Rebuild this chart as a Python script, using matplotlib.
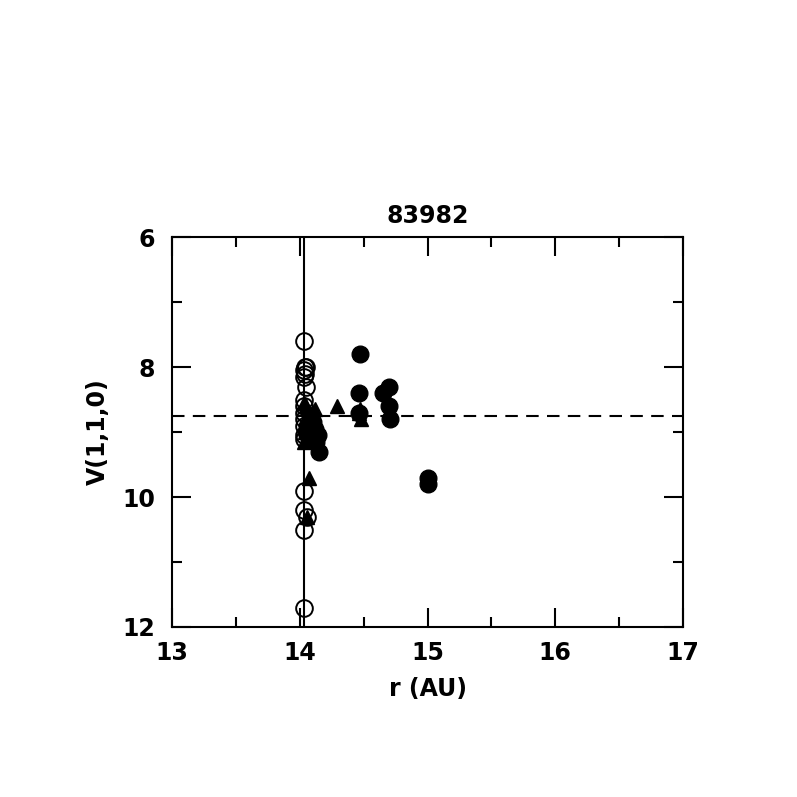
import matplotlib
matplotlib.use("Agg")
import matplotlib.pyplot as plt
from matplotlib.ticker import MultipleLocator

plt.rcParams['font.family'] = ['DejaVu Sans']

title = "83982"
open_x = [14.03, 14.04, 14.05, 14.03, 14.04, 14.03, 14.05, 14.03, 14.03, 14.03, 14.03, 14.03, 14.03, 14.03, 14.03, 14.03, 14.06, 14.03, 14.03]
open_y = [7.6, 8.0, 8.0, 8.05, 8.1, 8.15, 8.3, 8.5, 8.6, 8.7, 8.8, 8.9, 9.05, 9.1, 9.9, 10.2, 10.3, 10.5, 11.7]

tri_x = [14.03, 14.05, 14.08, 14.10, 14.05, 14.04, 14.03, 14.29, 14.47, 14.46, 14.48, 14.07, 14.06, 14.12]
tri_y = [8.55, 8.6, 8.7, 8.75, 8.85, 9.0, 9.15, 8.6, 8.65, 8.7, 8.8, 9.7, 10.3, 8.65]

fill_x = [14.47, 14.46, 14.46, 14.65, 14.70, 14.70, 14.71, 15.0, 15.0, 14.08, 14.10, 14.12, 14.14, 14.13, 14.15, 14.06, 14.05, 14.07]
fill_y = [7.8, 8.4, 8.7, 8.4, 8.3, 8.6, 8.8, 9.7, 9.8, 8.75, 8.85, 8.95, 9.05, 9.15, 9.3, 8.9, 9.0, 9.1]

vline_x = 14.03
hline_y = 8.75

fig = plt.figure(figsize=(7.97, 7.97), dpi=100)
ax = fig.add_axes([0.2158, 0.2133, 0.6412, 0.4893])

ax.axvline(vline_x, color='black', lw=1.5, zorder=1)
ax.axhline(hline_y, color='black', lw=1.5, ls=(0, (6, 4)), zorder=1)

ax.plot(open_x, open_y, 'o', ms=12, mfc='none', mec='black', mew=1.4, ls='none', zorder=3)
ax.plot(tri_x, tri_y, '^', ms=10.5, color='black', ls='none', zorder=3)
ax.plot(fill_x, fill_y, 'o', ms=12, color='black', ls='none', zorder=3)

ax.set_xlim(13, 17)
ax.set_ylim(12, 6)
ax.xaxis.set_major_locator(MultipleLocator(1))
ax.xaxis.set_minor_locator(MultipleLocator(0.5))
ax.yaxis.set_major_locator(MultipleLocator(2))
ax.yaxis.set_minor_locator(MultipleLocator(1))
ax.tick_params(which='both', direction='in', top=True, right=True, width=1.5)
ax.tick_params(which='major', length=14, labelsize=17)
ax.tick_params(axis='x', which='major', pad=10)
ax.tick_params(axis='y', which='major', pad=12)
ax.tick_params(which='minor', length=7)
for s in ax.spines.values():
    s.set_linewidth(1.5)
for lab in ax.get_xticklabels() + ax.get_yticklabels():
    lab.set_fontweight('bold')

ax.set_xlabel("r (AU)", fontsize=17, fontweight='bold', labelpad=9)
ax.set_ylabel("V(1,1,0)", fontsize=17, fontweight='bold', labelpad=9)
ax.set_title(title, fontsize=17, fontweight='bold', pad=10)

fig.savefig("out.png", dpi=100)
